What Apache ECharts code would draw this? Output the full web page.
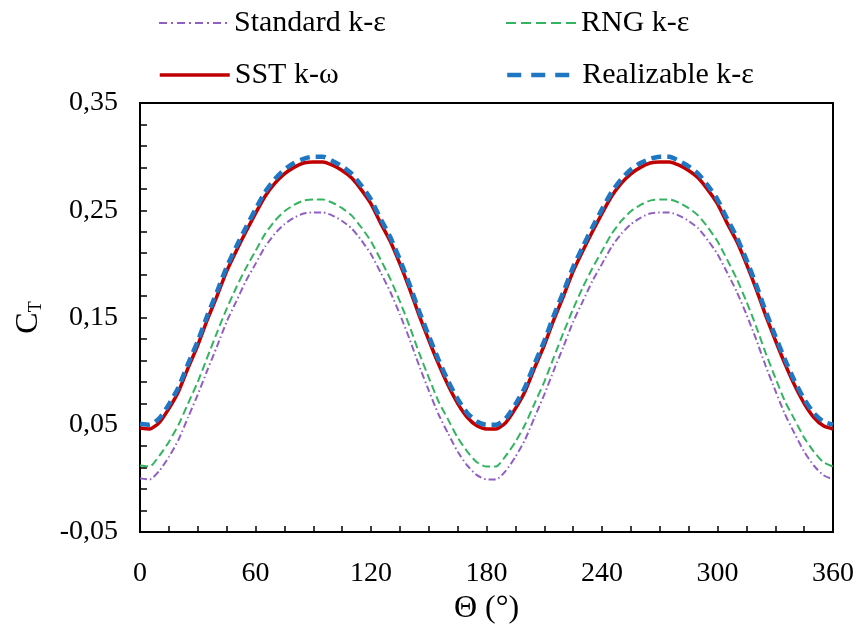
<!DOCTYPE html>
<html><head><meta charset="utf-8">
<script src="https://cdn.jsdelivr.net/npm/echarts@6/dist/echarts.min.js"></script>
<style>html,body{margin:0;padding:0;background:#fff}#c{width:857px;height:637px}</style>
</head><body><div id="c"></div>
<script>
const theta = [0,5,10,15,20,25,30,35,40,45,50,55,60,65,70,75,80,85,90,95,100,105,110,115,120,125,130,135,140,145,150,155,160,165,170,175,180,
  185,190,195,200,205,210,215,220,225,230,235,240,245,250,255,260,265,270,275,280,285,290,295,300,305,310,315,320,325,330,335,340,345,350,355,360];

const sstKW = [0.047,0.046,0.052,0.065,0.081,0.103,0.124,0.148,0.170,0.193,0.212,0.230,0.247,0.263,0.275,0.284,0.290,0.294,0.295,0.295,0.292,0.287,0.280,0.269,0.256,0.238,0.221,0.200,0.177,0.152,0.129,0.107,0.087,0.070,0.057,0.049,0.046,
  0.046,0.052,0.065,0.081,0.103,0.124,0.148,0.170,0.193,0.212,0.230,0.247,0.263,0.275,0.284,0.290,0.294,0.295,0.295,0.292,0.287,0.280,0.269,0.256,0.238,0.221,0.200,0.177,0.152,0.129,0.107,0.087,0.070,0.057,0.049,0.046];

const realizableKE = [0.051,0.050,0.056,0.069,0.085,0.107,0.128,0.152,0.174,0.197,0.216,0.234,0.251,0.267,0.279,0.288,0.294,0.298,0.300,0.300,0.296,0.291,0.284,0.273,0.260,0.242,0.225,0.204,0.181,0.156,0.133,0.111,0.091,0.074,0.061,0.053,0.050,
  0.050,0.056,0.069,0.085,0.107,0.128,0.152,0.174,0.197,0.216,0.234,0.251,0.267,0.279,0.288,0.294,0.298,0.300,0.300,0.296,0.291,0.284,0.273,0.260,0.242,0.225,0.204,0.181,0.156,0.133,0.111,0.091,0.074,0.061,0.053,0.050];

const rngKE = [0.012,0.011,0.021,0.034,0.050,0.070,0.090,0.113,0.136,0.158,0.178,0.196,0.212,0.228,0.240,0.249,0.255,0.259,0.260,0.260,0.257,0.252,0.245,0.234,0.221,0.204,0.186,0.165,0.142,0.117,0.094,0.072,0.055,0.038,0.025,0.015,0.011,
  0.011,0.021,0.034,0.050,0.070,0.090,0.113,0.136,0.158,0.178,0.196,0.212,0.228,0.240,0.249,0.255,0.259,0.260,0.260,0.257,0.252,0.245,0.234,0.221,0.204,0.186,0.165,0.142,0.117,0.094,0.072,0.055,0.038,0.025,0.015,0.011];

const standardKE = [0.000,-0.001,0.007,0.020,0.036,0.057,0.078,0.101,0.123,0.146,0.165,0.184,0.200,0.216,0.228,0.237,0.243,0.247,0.248,0.248,0.245,0.240,0.233,0.222,0.209,0.192,0.174,0.153,0.130,0.105,0.082,0.060,0.042,0.025,0.012,0.003,-0.001,
  -0.001,0.007,0.020,0.036,0.057,0.078,0.101,0.123,0.146,0.165,0.184,0.200,0.216,0.228,0.237,0.243,0.247,0.248,0.248,0.245,0.240,0.233,0.222,0.209,0.192,0.174,0.153,0.130,0.105,0.082,0.060,0.042,0.025,0.012,0.003,-0.001];

const seriesNames = ['Standard k-ε','RNG k-ε','SST k-ω','Realizable k-ε'];
const xTickLabels = [0,60,120,180,240,300,360];
const yTickLabels = [-0.05,0.05,0.15,0.25,0.35];
const xTicks = [0,15,30,45,60,75,90,105,120,135,150,165,180,195,210,225,240,255,270,285,300,315,330,345,360];
const yTicks = [-0.05,-0.03,-0.01,0.01,0.03,0.05,0.07,0.09,0.11,0.13,0.15,0.17,0.19,0.21,0.23,0.25,0.27,0.29,0.31,0.33,0.35];

const FONT = 'Liberation Serif';
const pairs = arr => theta.map((t,i)=>[t, arr[i]]);

const styles = [
  {color:'#8F5FC5', width:2, type:[7,3,1.5,3]},
  {color:'#33B460', width:2, type:[8,4]},
  {color:'#C00000', width:3.5, type:'solid'},
  {color:'#1F77C4', width:4.5, type:[10,6]}
];
const legendTypes = [[8,4,2,4],[10,5],'solid',[14,10]];
const datas = [standardKE, rngKE, sstKW, realizableKE];
const legendPos = [[153,3],[500,3],[153,55],[500,55]];

const chart = echarts.init(document.getElementById('c'), null, {renderer:'canvas'});
chart.setOption({
  backgroundColor:'#fff',
  animation:false,
  legend: seriesNames.map((n,i)=>({
    data:[n], left:legendPos[i][0], top:legendPos[i][1],
    itemWidth:70, itemHeight:14, itemGap:0,
    textStyle:{fontFamily:FONT, fontSize:30, color:'#000'},
    itemStyle:{opacity:0, borderWidth:0},
    lineStyle:{color:styles[i].color, width:styles[i].width, type:legendTypes[i], opacity:1},
    selectedMode:false
  })),
  grid:{left:140, right:23, top:103, bottom:105, show:true, borderColor:'#000', borderWidth:2, backgroundColor:'transparent'},
  xAxis:{
    type:'value', min:0, max:360,
    axisLine:{show:true, onZero:false, lineStyle:{color:'#000', width:2}},
    axisTick:{show:true, inside:true, length:6, customValues:xTicks, lineStyle:{color:'#000', width:1.5}},
    axisLabel:{customValues:xTickLabels, margin:28, fontFamily:FONT, fontSize:28, color:'#000'},
    splitLine:{show:false},
    name:'Θ (°)', nameLocation:'middle', nameGap:56,
    nameTextStyle:{fontFamily:FONT, fontSize:32, color:'#000'}
  },
  yAxis:{
    type:'value', min:-0.05, max:0.35,
    axisLine:{show:true, onZero:false, lineStyle:{color:'#000', width:2}},
    axisTick:{show:true, inside:true, length:7, customValues:yTicks, lineStyle:{color:'#000', width:1.5}},
    axisLabel:{customValues:yTickLabels, margin:22, fontFamily:FONT, fontSize:28, color:'#000',
      formatter:v=>v.toFixed(2).replace('.', ',')},
    splitLine:{show:false},
    name:'{c|C}{t|T}', nameLocation:'middle', nameRotate:90, nameGap:95,
    nameTextStyle:{rich:{
      c:{fontFamily:FONT, fontSize:32, color:'#000'},
      t:{fontFamily:FONT, fontSize:18, color:'#000', verticalAlign:'bottom', padding:[12,0,0,0]}
    }}
  },
  series: seriesNames.map((n,i)=>({
    name:n, type:'line', data:pairs(datas[i]), smooth:0.2, symbol:'none',
    lineStyle:{color:styles[i].color, width:styles[i].width, type:styles[i].type},
    itemStyle:{color:styles[i].color},
    z: [2,3,4,5][i]
  }))
});
</script></body></html>
